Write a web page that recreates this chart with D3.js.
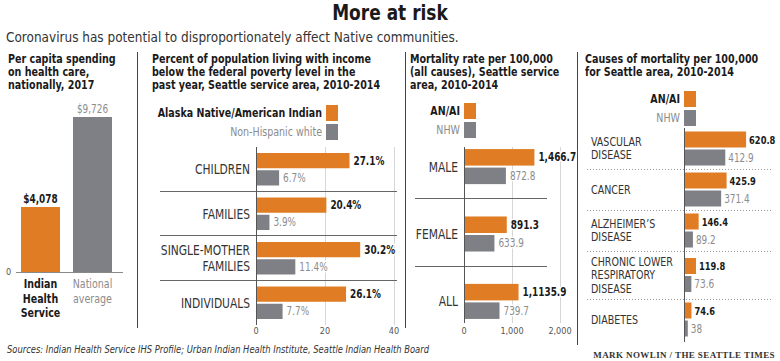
<!DOCTYPE html>
<html>
<head>
<meta charset="utf-8">
<script src="https://cdn.jsdelivr.net/npm/d3@7"></script>
<style>
  body { margin: 0; background: #fff; }
  svg { display: block; }
  text { font-family: 'DejaVu Sans Condensed', 'DejaVu Sans', sans-serif; }
</style>
</head>
<body>
<script>
// ---- data ----
const spendCats = [["Indian", "Health", "Service"], ["National", "average"]];
const spendValues = [4078, 9726];
const spendLabels = ["$4,078", "$9,726"];

const povertyCats = [["CHILDREN"], ["FAMILIES"], ["SINGLE-MOTHER", "FAMILIES"], ["INDIVIDUALS"]];
const povertyAian = [27.1, 20.4, 30.2, 26.1];
const povertyNhw = [6.7, 3.9, 11.4, 7.7];
const povertyTicks = [0, 20, 40];

const mortCats = [["MALE"], ["FEMALE"], ["ALL"]];
const mortAian = [1466.7, 891.3, 1135.9];
const mortAianLabels = ["1,466.7", "891.3", "1,1135.9"];
const mortNhw = [872.8, 633.9, 739.7];
const mortTicks = [0, 1000, 2000];

const causeCats = [["VASCULAR", "DISEASE"], ["CANCER"], ["ALZHEIMER’S", "DISEASE"],
                   ["CHRONIC LOWER", "RESPIRATORY", "DISEASE"], ["DIABETES"]];
const causeAian = [620.8, 425.9, 146.4, 119.8, 74.6];
const causeNhw = [412.9, 371.4, 89.2, 73.6, 38];

// ---- styles ----
const ORANGE = "#e07d24", GRAY = "#7f8085", DARK = "#1a1a1a", LIGHT = "#8c8c8c";
const styles = {
  title:    {size: 21,   weight: "bold",   fill: DARK,   k: 0.9},
  subtitle: {size: 14,   weight: "normal", fill: "#333", k: 0.96},
  head:     {size: 11.8, weight: "bold",   fill: DARK,   k: 0.9},
  legA:     {size: 12,   weight: "bold",   fill: DARK,   k: 0.88},
  legN:     {size: 12,   weight: "normal", fill: LIGHT,  k: 0.88},
  valA:     {size: 11.5, weight: "bold",   fill: DARK,   k: 0.86},
  valN:     {size: 11.5, weight: "normal", fill: LIGHT,  k: 0.86},
  valA4:    {size: 11,   weight: "bold",   fill: DARK,   k: 0.84},
  cat:      {size: 13.5, weight: "normal", fill: "#333", k: 0.88},
  cat4:     {size: 11.5, weight: "normal", fill: "#333", k: 0.92},
  tick:     {size: 9.5,  weight: "normal", fill: "#555", k: 0.95},
  source:   {size: 10,   weight: "normal", fill: "#333", k: 0.93, style: "italic"}
};

const svg = d3.select("body").append("svg")
              .attr("width", 780)
              .attr("height", 361);

// text helper: squeezes the glyphs a little so they read like the narrow original face
function label(g, x, y, str, cls, anchor) {
  const s = styles[cls];
  const t = g.append("text")
             .attr("x", x).attr("y", y)
             .attr("text-anchor", anchor || "start")
             .style("font-size", s.size + "px")
             .style("font-weight", s.weight)
             .style("font-style", s.style || "normal")
             .attr("fill", s.fill)
             .text(str);
  const len = t.node().getComputedTextLength();
  t.attr("textLength", len * s.k).attr("lengthAdjust", "spacingAndGlyphs");
  return t;
}

function lines(g, x, yFirst, arr, lh, cls, anchor) {
  arr.forEach((l, i) => label(g, x, yFirst + i * lh, l, cls, anchor));
}

// title + subtitle
label(svg, 390, 20, "More at risk", "title", "middle");
label(svg, 6, 42, "Coronavirus has potential to disproportionately affect Native communities.", "subtitle");

// panel dividers
[[137, 52, 328], [405, 52, 328], [577, 52, 345]].forEach(d => {
  svg.append("line").attr("x1", d[0] + 0.5).attr("x2", d[0] + 0.5).attr("y1", d[1]).attr("y2", d[2])
     .attr("stroke", "#444").attr("stroke-width", 1);
});

function panelTitle(x, arr) { lines(svg, x, 63, arr, 13, "head"); }

// ---- panel 1: spending ----
panelTitle(8, ["Per capita spending", "on health care,", "nationally, 2017"]);
const x1 = d3.scaleBand().domain(d3.range(spendValues.length)).range([21, 112]).paddingInner(0.25);
const y1 = d3.scaleLinear().domain([0, 9726]).range([272, 117]);
const g1 = svg.append("g");
g1.selectAll("rect").data(spendValues).join("rect")
  .attr("x", (d, i) => x1(i)).attr("width", x1.bandwidth())
  .attr("y", d => y1(d)).attr("height", d => y1(0) - y1(d))
  .attr("fill", (d, i) => i ? GRAY : ORANGE);
spendValues.forEach((d, i) => {
  label(g1, x1(i) + x1.bandwidth() / 2, y1(d) - 4, spendLabels[i], i ? "valN" : "valA", "middle");
});
g1.append("line").attr("x1", 16).attr("x2", 123).attr("y1", y1(0) + 0.5).attr("y2", y1(0) + 0.5)
  .attr("stroke", "#888");
label(g1, 6, y1(0) + 3, "0", "tick");
spendCats.forEach((c, i) => {
  lines(g1, x1(i) + x1.bandwidth() / 2, 288, c, 14.5, i ? "legN" : "legA", "middle");
});

// generic grouped horizontal bars
function groupedBars(opt) {
  const g = svg.append("g");
  const x = opt.x;
  const gap = opt.labelGap || 4;
  // grid
  opt.ticks.slice(1).forEach(t => {
    g.append("line").attr("x1", x(t) + 0.5).attr("x2", x(t) + 0.5)
     .attr("y1", opt.gridTop).attr("y2", opt.gridBottom).attr("stroke", "#d6d6d6");
  });
  // separators
  opt.seps.forEach(s => {
    g.append("line").attr("x1", opt.sepX[0]).attr("x2", opt.sepX[1])
     .attr("y1", Math.round(s) + 0.5).attr("y2", Math.round(s) + 0.5)
     .attr("stroke", opt.dash ? "#999" : "#666").attr("stroke-dasharray", opt.dash || null);
  });
  opt.aian.forEach((v, i) => {
    const top = opt.tops[i];
    g.append("rect").attr("x", x(0)).attr("y", top).attr("width", x(v) - x(0)).attr("height", opt.bh)
     .attr("fill", ORANGE);
    g.append("rect").attr("x", x(0)).attr("y", top + opt.bh + 2).attr("width", x(opt.nhw[i]) - x(0)).attr("height", opt.bh)
     .attr("fill", GRAY);
    label(g, x(v) + gap, top + opt.bh / 2 + 4, opt.aianLabels[i], opt.valCls || "valA")
      .attr("stroke", "#fff").attr("stroke-width", 3).attr("paint-order", "stroke");
    label(g, x(opt.nhw[i]) + gap, top + opt.bh * 1.5 + 6, opt.nhwLabels[i], "valN")
      .attr("stroke", "#fff").attr("stroke-width", 3).attr("paint-order", "stroke");
    const c = opt.cats[i];
    const lh = opt.labelLh;
    lines(g, opt.labelX, opt.labelY(i) - (c.length - 1) * lh / 2 + opt.capShift, c, lh, opt.labelCls, opt.labelAnchor);
  });
  // axis line
  g.append("line").attr("x1", x(0) + 0.5).attr("x2", x(0) + 0.5)
   .attr("y1", opt.gridTop).attr("y2", opt.gridBottom).attr("stroke", "#555");
  if (opt.showTicks) {
    opt.ticks.forEach(t => label(g, x(t), opt.tickY, d3.format(",")(t), "tick", "middle"));
  }
  return g;
}

function legend(sx, ya, yn, h) {
  svg.append("rect").attr("x", sx).attr("y", ya).attr("width", 12).attr("height", h).attr("fill", ORANGE);
  svg.append("rect").attr("x", sx).attr("y", yn).attr("width", 12).attr("height", h).attr("fill", GRAY);
}

// ---- panel 2: poverty ----
panelTitle(152, ["Percent of population living with income",
                 "below the federal poverty level in the",
                 "past year, Seattle service area, 2010-2014"]);
legend(326, 105, 124, 16);
label(svg, 322, 117, "Alaska Native/American Indian", "legA", "end");
label(svg, 322, 136, "Non-Hispanic white", "legN", "end");

const x2 = d3.scaleLinear().domain([0, 40]).range([256, 394]);
const yb2 = d3.scaleBand().domain(d3.range(povertyAian.length)).range([147, 325])
              .paddingInner(0.27).paddingOuter(0.135);
groupedBars({
  x: x2, ticks: povertyTicks, gridTop: 147, gridBottom: 325,
  tops: povertyAian.map((d, i) => yb2(i)), bh: (yb2.bandwidth() - 2) / 2,
  seps: d3.range(1, povertyAian.length).map(i => yb2(i) - yb2.step() * yb2.paddingInner() / 2 - 1),
  sepX: [160, 397],
  aian: povertyAian, nhw: povertyNhw,
  aianLabels: povertyAian.map(d => d.toFixed(1) + "%"),
  nhwLabels: povertyNhw.map(d => d.toFixed(1) + "%"),
  cats: povertyCats, labelX: 250, labelAnchor: "end", labelCls: "cat", labelLh: 16, capShift: 5,
  labelY: i => yb2(i) + yb2.bandwidth() / 2,
  showTicks: true, tickY: 334
});

// ---- panel 3: mortality ----
panelTitle(410, ["Mortality rate per 100,000", "(all causes), Seattle service", "area, 2010-2014"]);
legend(464, 103, 122, 16);
label(svg, 460, 115, "AN/AI", "legA", "end");
label(svg, 460, 134, "NHW", "legN", "end");

const x3 = d3.scaleLinear().domain([0, 2000]).range([464, 560]);
const yb3 = d3.scaleBand().domain(d3.range(mortAian.length)).range([143, 325])
              .paddingInner(0.48).paddingOuter(0.09);
groupedBars({
  x: x3, ticks: mortTicks, gridTop: 147, gridBottom: 323,
  tops: mortAian.map((d, i) => yb3(i)), bh: (yb3.bandwidth() - 2) / 2,
  seps: d3.range(1, mortAian.length).map(i => yb3(i) - yb3.step() * yb3.paddingInner() / 2 - 2),
  sepX: [415, 547],
  aian: mortAian, nhw: mortNhw,
  aianLabels: mortAianLabels, nhwLabels: mortNhw.map(d => d.toFixed(1)),
  cats: mortCats, labelX: 458, labelAnchor: "end", labelCls: "cat", labelLh: 16, capShift: 5,
  labelY: i => yb3(i) + yb3.bandwidth() / 2,
  showTicks: true, tickY: 334
});

// ---- panel 4: causes ----
panelTitle(585, ["Causes of mortality per 100,000", "for Seattle area, 2010-2014"]);
legend(684, 91, 110, 16);
label(svg, 680, 103, "AN/AI", "legA", "end");
label(svg, 680, 122, "NHW", "legN", "end");

const x4 = d3.scaleLinear().domain([0, 700]).range([684, 754]);
const groupH = causeCats.map(c => c.length >= 3 ? 48 : 41);
const groupTop = [128, ...d3.cumsum(groupH).map(h => 128 + h)];
groupedBars({
  x: x4, ticks: [0], gridTop: 128, gridBottom: 342,
  tops: causeAian.map((d, i) => groupTop[i] + (groupH[i] - 34) / 2), bh: 16,
  seps: groupTop.slice(1, causeAian.length),
  sepX: [587, 773], dash: "1,2", labelGap: 3,
  aian: causeAian, nhw: causeNhw, valCls: "valA4",
  aianLabels: causeAian.map(d => d3.format(".1f")(d)),
  nhwLabels: causeNhw.map(d => String(d)),
  cats: causeCats, labelX: 591, labelAnchor: "start", labelCls: "cat4", labelLh: 13.5, capShift: 4,
  labelY: i => groupTop[i] + groupH[i] / 2,
  showTicks: false
});

// ---- footer ----
label(svg, 7, 353, "Sources: Indian Health Service IHS Profile; Urban Indian Health Institute, Seattle Indian Health Board", "source");
svg.append("text").attr("x", 775).attr("y", 358).attr("text-anchor", "end")
   .style("font-family", "'Liberation Serif', 'DejaVu Serif', serif")
   .style("font-size", "9px").style("font-weight", "bold").style("letter-spacing", "0.4px")
   .attr("fill", "#333")
   .text("MARK NOWLIN / THE SEATTLE TIMES");
</script>
</body>
</html>
